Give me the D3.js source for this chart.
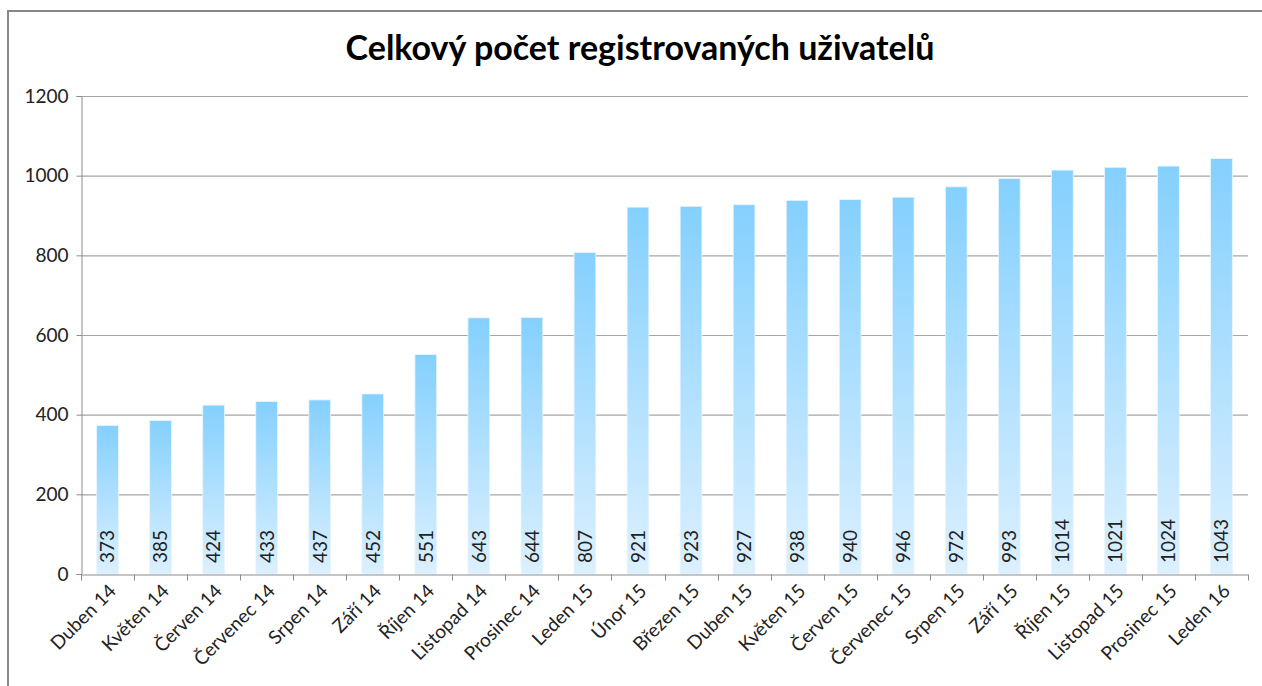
<!DOCTYPE html>
<html><head><meta charset="utf-8">
<script src="https://cdn.jsdelivr.net/npm/d3@7"></script>
<style>body{margin:0;background:#fff;} svg{display:block;}</style>
</head><body>
<svg id="c" width="1262" height="686"></svg>
<script>
const categories = ["Duben 14","Květen 14","Červen 14","Červenec 14","Srpen 14","Září 14","Říjen 14","Listopad 14","Prosinec 14","Leden 15","Únor 15","Březen 15","Duben 15","Květen 15","Červen 15","Červenec 15","Srpen 15","Září 15","Říjen 15","Listopad 15","Prosinec 15","Leden 16"];
const values = [373,385,424,433,437,452,551,643,644,807,921,923,927,938,940,946,972,993,1014,1021,1024,1043];
const yTicks = [0,200,400,600,800,1000,1200];
const title = "Celkový počet registrovaných uživatelů";

const svg = d3.select("#c");
const font = "Lato, 'Open Sans', sans-serif";
const L = 81, R = 1248, T = 96, B = 574;

svg.append("rect").attr("x",8).attr("y",11).attr("width",1400).attr("height",800)
  .attr("fill","#fff").attr("stroke","#888").attr("stroke-width",2);

const defs = svg.append("defs");
const g = defs.append("linearGradient").attr("id","bg").attr("x1",0).attr("y1",0).attr("x2",0).attr("y2",1);
g.append("stop").attr("offset","0%").attr("stop-color","#84d0fe");
g.append("stop").attr("offset","100%").attr("stop-color","#dcf0ff");

const x = d3.scaleBand().domain(categories).range([L,R]).paddingInner(0.59).paddingOuter(0.295);
const y = d3.scaleLinear().domain([0,1200]).range([B,T]);

// gridlines
svg.append("g").selectAll("line").data(yTicks.filter(d=>d>0)).join("line")
  .attr("x1",L).attr("x2",R).attr("y1",d=>y(d)+0.5).attr("y2",d=>y(d)+0.5)
  .attr("stroke","#a6a6a6").attr("stroke-width",1.2);

// bars
svg.append("g").selectAll("rect").data(values).join("rect")
  .attr("x",(d,i)=>x(categories[i])).attr("width",x.bandwidth())
  .attr("y",d=>y(d)).attr("height",d=>B-y(d))
  .attr("fill","url(#bg)").attr("stroke","#e8f5ff").attr("stroke-width",0.8);

// y axis
const ya = svg.append("g").attr("transform",`translate(${L+0.5},0)`)
  .call(d3.axisLeft(y).tickValues(yTicks).tickSize(5).tickPadding(8).tickFormat(d3.format("d")));
ya.select(".domain").attr("stroke","#8c8c8c");
ya.selectAll(".tick line").attr("stroke","#8c8c8c");
ya.selectAll("text").attr("font-family",font).attr("font-size",19).attr("fill","#222");

// x axis
const xa = svg.append("g").attr("transform",`translate(0,${B+0.5})`)
  .call(d3.axisBottom(x).tickSize(0).tickFormat(""));
xa.select(".domain").attr("stroke","#8c8c8c");
const step = x.step();
const bounds = d3.range(categories.length+1).map(i=>L + i*step);
xa.append("g").selectAll("line").data(bounds).join("line")
  .attr("x1",d=>Math.round(d)+0.5).attr("x2",d=>Math.round(d)+0.5).attr("y1",0).attr("y2",6)
  .attr("stroke","#8c8c8c");
xa.append("g").selectAll("text").data(categories).join("text")
  .attr("transform",d=>`translate(${x(d)+x.bandwidth()/2+5},${13}) rotate(-45)`)
  .attr("text-anchor","end").attr("font-family",font).attr("font-size",19).attr("fill","#222")
  .attr("dy","0.35em").text(d=>d);

// value labels
svg.append("g").selectAll("text").data(values).join("text")
  .attr("transform",(d,i)=>`translate(${x(categories[i])+x.bandwidth()/2},${B-11}) rotate(-90)`)
  .attr("dy","0.36em").attr("font-family",font).attr("font-size",19).attr("fill","#222")
  .text(d=>d);

// title
svg.append("text").attr("x",640).attr("y",60).attr("text-anchor","middle")
  .attr("font-family",font).attr("font-weight","bold").attr("font-size",34).attr("fill","#000")
  .text(title);
</script>
</body></html>
